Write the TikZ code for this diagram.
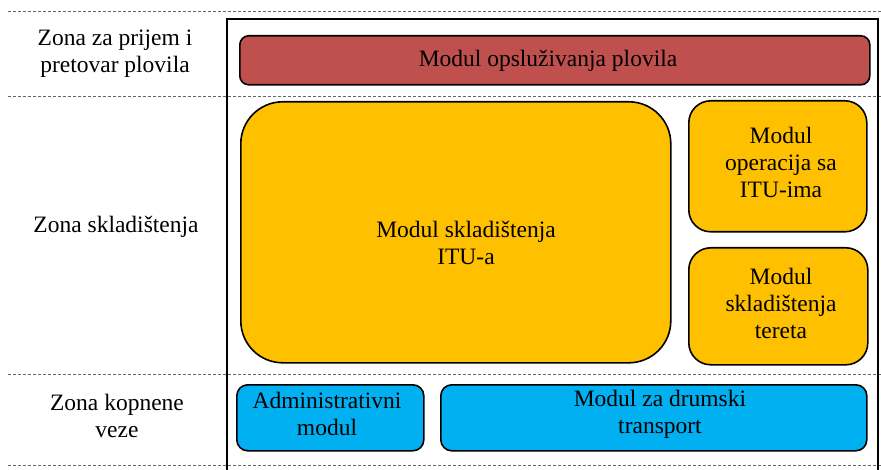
\documentclass[tikz,border=0pt]{standalone}
\usepackage{fontspec}
\setmainfont{Liberation Serif}
\begin{document}
\begin{tikzpicture}[x=1pt,y=-1pt,
  txt/.style={font=\fontsize{23.5}{27}\selectfont, align=center, inner sep=0pt, anchor=center},
  modbox/.style={draw=black, line width=1.6pt, inner sep=0pt, anchor=north west},
  zoneline/.style={draw=black!60, line width=0.9pt, dash pattern=on 3pt off 2pt},
  frame/.style={draw=black, line width=1.6pt}]
\useasboundingbox (0,0) rectangle (881,470);
\clip (0,0) rectangle (881,470);
\definecolor{modred}{HTML}{C0504D}
\definecolor{modyellow}{HTML}{FFC000}
\definecolor{modblue}{HTML}{00B0F0}
% zone separators
\coordinate (l1a) at (8,11);  \coordinate (l1b) at (881,11);
\coordinate (l2a) at (8,96);  \coordinate (l2b) at (881,96);
\coordinate (l3a) at (8,374); \coordinate (l3b) at (881,374);
\coordinate (l4a) at (8,465); \coordinate (l4b) at (881,465);
\draw[zoneline] (l1a) -- (l1b);
\draw[zoneline] (l2a) -- (l2b);
\draw[zoneline] (l3a) -- (l3b);
\draw[zoneline] (l4a) -- (l4b);
% outer frame
\coordinate (fa) at (227,19); \coordinate (fb) at (878,500);
\draw[frame] (fa) rectangle (fb);
% modules
\node[modbox, fill=modred, rounded corners=9pt, minimum width=630pt, minimum height=49pt] (ves) at (239,35) {};
\node[modbox, fill=modyellow, rounded corners=42pt, minimum width=430pt, minimum height=261pt] (stor) at (240,101) {};
\node[modbox, fill=modyellow, rounded corners=22pt, minimum width=178pt, minimum height=131pt] (ops) at (688,100) {};
\node[modbox, fill=modyellow, rounded corners=22pt, minimum width=179pt, minimum height=117pt] (cargo) at (688,247) {};
\node[modbox, fill=modblue, rounded corners=11pt, minimum width=187pt, minimum height=66pt] (adm) at (236,384) {};
\node[modbox, fill=modblue, rounded corners=11pt, minimum width=426pt, minimum height=66pt] (road) at (440,384) {};
% texts
\node[txt] (z1) at (115,54) {Zona za prijem i\\pretovar plovila};
\node[txt] (z2) at (116,227) {Zona skladištenja};
\node[txt] (z3) at (117,416) {Zona kopnene\\veze};
\node[txt] (tves) at (548,61) {Modul opsluživanja plovila};
\node[txt] (tstor) at (466,243) {Modul skladištenja\\ITU-a};
\node[txt] (tops) at (781,162) {Modul\\operacija sa\\ITU-ima};
\node[txt] (tcargo) at (781,303) {Modul\\skladištenja\\tereta};
\node[txt] (tadm) at (327,414) {Administrativni\\modul};
\node[txt] (troad) at (660,414) {Modul za drumski\\transport};
\end{tikzpicture}
\end{document}
